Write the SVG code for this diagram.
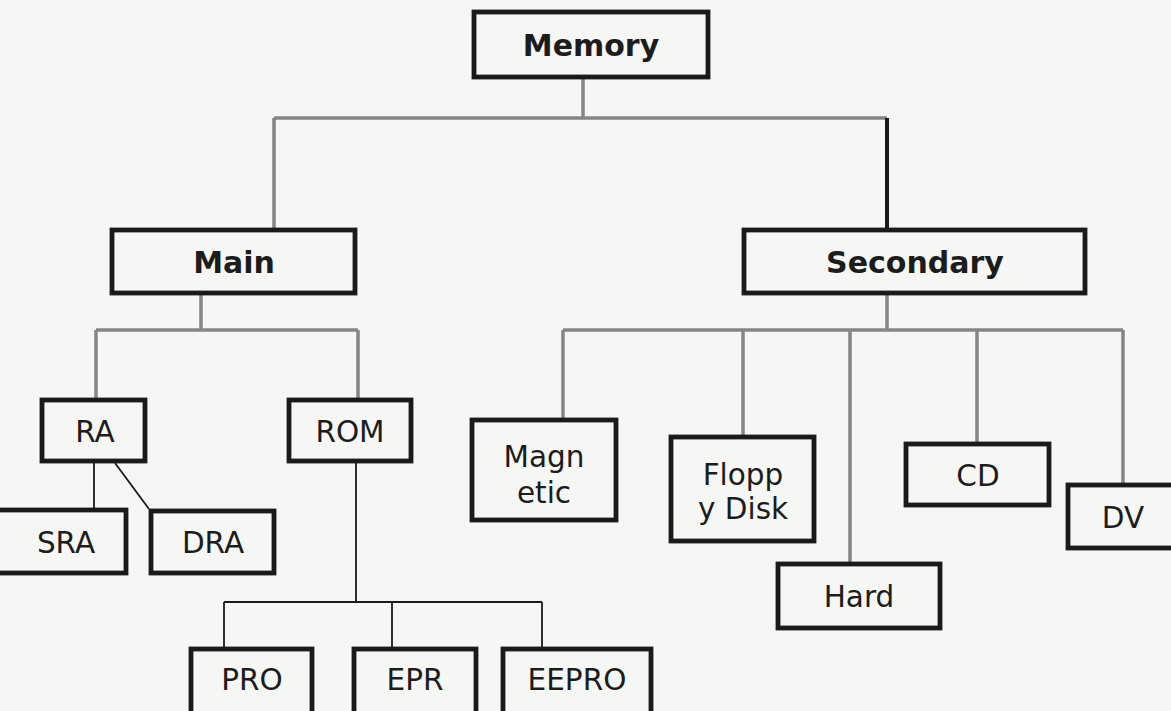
<svg xmlns="http://www.w3.org/2000/svg" width="1171" height="711" viewBox="0 0 1171 711">
  <style>
    .box { fill: none; stroke: #1a1a1a; stroke-width: 4.8; }
    .lbl { font-family: "DejaVu Sans", Verdana, sans-serif; font-size: 29.5px; fill: #1c1c1c; text-anchor: middle; }
    .bold { font-weight: bold; font-size: 30px; }
    .gray { fill: none; stroke: #858585; stroke-width: 3.5; }
    .dark { fill: none; stroke: #1a1a1a; stroke-width: 4; }
    .thin { fill: none; stroke: #1a1a1a; stroke-width: 1.8; }
  </style>
  <rect x="0" y="0" width="1171" height="711" fill="#f6f6f4"/>

  <g id="connectors">
    <path class="gray" d="M583 79 V118 M274 118 H887 M274 118 V228"/>
    <path class="dark" d="M887 118 V228"/>
    <path class="gray" d="M201 295 V330 M96 330 H358 M96 330 V398 M358 330 V398"/>
    <path class="gray" d="M887 295 V330 M563 330 H1123 M563 330 V418 M743 330 V435 M850 330 V562 M977 330 V442 M1123 330 V483"/>
    <path class="thin" d="M94 463 V508 M115 463 L149 509"/>
    <path class="thin" d="M356 463 V602 M224 602 H542 M224 602 V647 M392 602 V647 M542 602 V647"/>
  </g>

  <g id="memory">
    <rect class="box" x="474" y="12" width="234" height="65"/>
    <text class="lbl bold" x="591" y="56">Memory</text>
  </g>
  <g id="main">
    <rect class="box" x="112" y="230" width="243" height="63"/>
    <text class="lbl bold" x="234" y="273">Main</text>
  </g>
  <g id="secondary">
    <rect class="box" x="744" y="230" width="341" height="63"/>
    <text class="lbl bold" x="915" y="273">Secondary</text>
  </g>
  <g id="ra">
    <rect class="box" x="42" y="400" width="103" height="61"/>
    <text class="lbl" x="95" y="442">RA</text>
  </g>
  <g id="rom">
    <rect class="box" x="289" y="400" width="122" height="61"/>
    <text class="lbl" x="350" y="442">ROM</text>
  </g>
  <g id="magnetic">
    <rect class="box" x="472" y="420" width="144" height="100"/>
    <text class="lbl" x="544" y="467">Magn</text>
    <text class="lbl" x="544" y="503">etic</text>
  </g>
  <g id="floppy">
    <rect class="box" x="671" y="437" width="143" height="104"/>
    <text class="lbl" x="743" y="485">Flopp</text>
    <text class="lbl" x="743" y="519">y Disk</text>
  </g>
  <g id="cd">
    <rect class="box" x="906" y="444" width="143" height="61"/>
    <text class="lbl" x="978" y="486">CD</text>
  </g>
  <g id="dv">
    <rect class="box" x="1068" y="485" width="130" height="63"/>
    <text class="lbl" x="1123" y="528">DV</text>
  </g>
  <g id="hard">
    <rect class="box" x="778" y="564" width="162" height="64"/>
    <text class="lbl" x="859" y="607">Hard</text>
  </g>
  <g id="sra">
    <rect class="box" x="-20" y="510" width="146" height="63"/>
    <text class="lbl" x="66" y="553">SRA</text>
  </g>
  <g id="dra">
    <rect class="box" x="151" y="511" width="123" height="62"/>
    <text class="lbl" x="213" y="553">DRA</text>
  </g>
  <g id="pro">
    <rect class="box" x="191" y="649" width="121" height="72"/>
    <text class="lbl" x="252" y="690">PRO</text>
  </g>
  <g id="epr">
    <rect class="box" x="354" y="649" width="122" height="72"/>
    <text class="lbl" x="415" y="690">EPR</text>
  </g>
  <g id="eepro">
    <rect class="box" x="503" y="649" width="148" height="72"/>
    <text class="lbl" x="577" y="690">EEPRO</text>
  </g>
</svg>
